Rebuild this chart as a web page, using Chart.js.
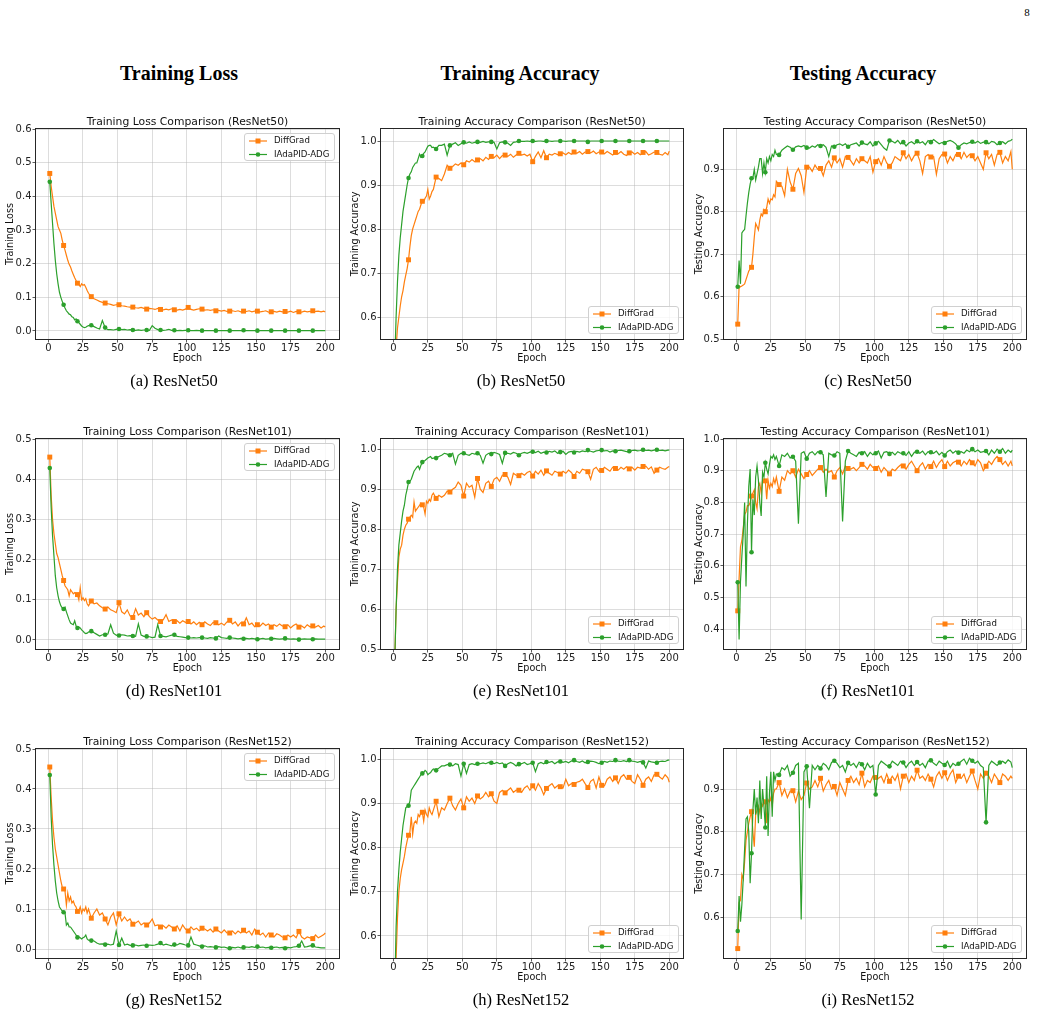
<!DOCTYPE html>
<html>
<head>
<meta charset="utf-8">
<title>ResNet training curves</title>
<script src="https://cdn.jsdelivr.net/npm/chart.js@4.4.0/dist/chart.umd.min.js"></script>
<style>
  html, body { margin: 0; padding: 0; background: #fff; }
  body { width: 1037px; height: 1017px; position: relative; overflow: hidden; }
  .serif { position: absolute; font-family: "Liberation Serif", "Times New Roman", serif; color: #000;
           transform: translate(-50%, -50%); white-space: nowrap; line-height: 1; }
  .hdr { font-weight: bold; font-size: 20px; }
  .cap { font-size: 16.5px; }
  .pnum { font-size: 11px; }
  canvas { position: absolute; }
</style>
</head>
<body>
<div class="serif pnum" style="left:1027px; top:12px">8</div>
<div class="serif hdr" style="left:179px; top:73px">Training Loss</div>
<div class="serif hdr" style="left:520px; top:73px">Training Accuracy</div>
<div class="serif hdr" style="left:863px; top:73px">Testing Accuracy</div>

<script>
// epochs: every epoch up to 29, then every other epoch, then the last one
const epochs = [];
for (let e = 1; e <= 29; e++) epochs.push(e);
for (let e = 31; e <= 199; e += 2) epochs.push(e);
epochs.push(200);

const epochTicks = [0, 25, 50, 75, 100, 125, 150, 175, 200];
const lossTicks50 = [0.0, 0.1, 0.2, 0.3, 0.4, 0.5, 0.6];
const lossTicks = [0.0, 0.1, 0.2, 0.3, 0.4, 0.5];
const trainTicks50 = [0.6, 0.7, 0.8, 0.9, 1.0];
const testTicks50 = [0.5, 0.6, 0.7, 0.8, 0.9];
const trainTicks101 = [0.5, 0.6, 0.7, 0.8, 0.9, 1.0];
const testTicks101 = [0.4, 0.5, 0.6, 0.7, 0.8, 0.9, 1.0];
const trainTicks152 = [0.6, 0.7, 0.8, 0.9, 1.0];
const testTicks152 = [0.6, 0.7, 0.8, 0.9];

// rows: 1-10 | 11-20 | 21-29 | 31-49 odd | ... | 171-189 odd | 191-199 odd, 200

// ---------- ResNet50 ----------
const lossDiff50 = [
  0.468, 0.43, 0.40, 0.37, 0.35, 0.33, 0.31, 0.30, 0.29, 0.27,
  0.254, 0.24, 0.225, 0.21, 0.198, 0.19, 0.178, 0.168, 0.158, 0.15,
  0.142, 0.138, 0.132, 0.14, 0.136, 0.138, 0.13, 0.12, 0.112,
  0.102, 0.096, 0.092, 0.088, 0.085, 0.083, 0.081, 0.079, 0.076, 0.078,
  0.078, 0.075, 0.074, 0.072, 0.071, 0.071, 0.069, 0.068, 0.070, 0.067,
  0.065, 0.067, 0.066, 0.064, 0.067, 0.064, 0.063, 0.065, 0.063, 0.066,
  0.063, 0.062, 0.064, 0.062, 0.065, 0.070, 0.064, 0.062, 0.064, 0.066,
  0.065, 0.062, 0.063, 0.061, 0.063, 0.060, 0.061, 0.059, 0.061, 0.058,
  0.059, 0.060, 0.058, 0.060, 0.057, 0.059, 0.058, 0.060, 0.057, 0.059,
  0.059, 0.057, 0.058, 0.060, 0.056, 0.057, 0.058, 0.056, 0.059, 0.057,
  0.058, 0.056, 0.059, 0.055, 0.058, 0.057, 0.056, 0.059, 0.057, 0.058,
  0.060, 0.058, 0.059, 0.057, 0.059, 0.056
];
const lossAda50 = [
  0.443, 0.38, 0.32, 0.26, 0.21, 0.17, 0.14, 0.115, 0.10, 0.088,
  0.078, 0.068, 0.060, 0.055, 0.050, 0.048, 0.042, 0.040, 0.033, 0.036,
  0.029, 0.025, 0.020, 0.015, 0.012, 0.010, 0.011, 0.014, 0.016,
  0.017, 0.013, 0.009, 0.006, 0.031, 0.010, 0.004, 0.004, 0.003, 0.005,
  0.006, 0.004, 0.005, 0.003, 0.004, 0.003, 0.002, 0.003, 0.002, 0.003,
  0.003, 0.002, 0.016, 0.008, 0.004, 0.003, 0.002, 0.003, 0.005, 0.002,
  0.002, 0.001, 0.002, 0.001, 0.002, 0.002, 0.001, 0.001, 0.002, 0.001,
  0.001, 0.001, 0.001, 0.001, 0.001, 0.001, 0.001, 0.001, 0.001, 0.001,
  0.001, 0.001, 0.001, 0.001, 0.001, 0.002, 0.001, 0.001, 0.001, 0.001,
  0.001, 0.001, 0.001, 0.001, 0.001, 0.001, 0.001, 0.001, 0.001, 0.001,
  0.001, 0.001, 0.001, 0.001, 0.001, 0.001, 0.001, 0.001, 0.001, 0.001,
  0.001, 0.001, 0.001, 0.001, 0.001, 0.001
];
const trainDiff50 = [
  0.48, 0.53, 0.575, 0.60, 0.625, 0.646, 0.66, 0.68, 0.695, 0.71,
  0.73, 0.76, 0.785, 0.80, 0.81, 0.82, 0.83, 0.84, 0.845, 0.855,
  0.863, 0.862, 0.87, 0.875, 0.89, 0.868, 0.875, 0.885, 0.89,
  0.918, 0.915, 0.91, 0.925, 0.945, 0.938, 0.942, 0.948, 0.945, 0.95,
  0.946, 0.955, 0.952, 0.958, 0.953, 0.957, 0.96, 0.955, 0.963, 0.958,
  0.965, 0.962, 0.968, 0.96, 0.967, 0.968, 0.965, 0.97, 0.963, 0.968,
  0.972, 0.968, 0.97, 0.966, 0.97, 0.953, 0.965, 0.975, 0.962, 0.978,
  0.962, 0.97, 0.968, 0.972, 0.969, 0.971, 0.973, 0.969, 0.974, 0.97,
  0.975, 0.972, 0.976, 0.97, 0.975, 0.976, 0.973, 0.977, 0.971, 0.975,
  0.975, 0.971, 0.976, 0.972, 0.968, 0.974, 0.971, 0.976, 0.97, 0.967,
  0.973, 0.975, 0.97, 0.974, 0.969, 0.974, 0.976, 0.968, 0.971, 0.975,
  0.974, 0.97, 0.968, 0.974, 0.969, 0.977
];
const trainAda50 = [
  0.50, 0.60, 0.68, 0.74, 0.78, 0.81, 0.84, 0.86, 0.88, 0.90,
  0.916, 0.925, 0.93, 0.94, 0.945, 0.95, 0.95, 0.96, 0.97, 0.963,
  0.966, 0.972, 0.975, 0.982, 0.988, 0.99, 0.99, 0.985, 0.986,
  0.982, 0.99, 0.99, 0.993, 0.968, 0.99, 0.993, 0.996, 0.99, 0.994,
  0.997, 0.995, 0.998, 0.995, 0.997, 0.998, 0.997, 0.999, 0.997, 0.998,
  0.998, 0.997, 0.982, 0.996, 0.998, 0.997, 0.995, 0.99, 0.997, 0.998,
  1.0, 0.999, 0.999, 1.0, 0.999, 1.0, 0.999, 1.0, 1.0, 0.999,
  1.0, 1.0, 0.999, 1.0, 1.0, 1.0, 1.0, 0.999, 1.0, 1.0,
  1.0, 1.0, 1.0, 1.0, 1.0, 0.998, 1.0, 1.0, 1.0, 1.0,
  1.0, 1.0, 1.0, 1.0, 1.0, 1.0, 1.0, 1.0, 1.0, 1.0,
  1.0, 1.0, 1.0, 1.0, 1.0, 1.0, 1.0, 1.0, 1.0, 1.0,
  1.0, 1.0, 1.0, 1.0, 1.0, 1.0
];
const testDiff50 = [
  0.535, 0.625, 0.623, 0.625, 0.627, 0.63, 0.64, 0.65, 0.66, 0.665,
  0.669, 0.70, 0.74, 0.772, 0.765, 0.757, 0.78, 0.795, 0.79, 0.805,
  0.80, 0.81, 0.83, 0.82, 0.83, 0.828, 0.84, 0.835, 0.872,
  0.864, 0.86, 0.838, 0.90, 0.87, 0.853, 0.89, 0.902, 0.885, 0.845,
  0.905, 0.905, 0.895, 0.91, 0.90, 0.902, 0.885, 0.91, 0.92, 0.905,
  0.927, 0.915, 0.925, 0.905, 0.93, 0.928, 0.92, 0.91, 0.925, 0.915,
  0.925, 0.92, 0.915, 0.93, 0.893, 0.918, 0.925, 0.91, 0.93, 0.915,
  0.907, 0.915, 0.93, 0.925, 0.92, 0.939, 0.925, 0.935, 0.92, 0.932,
  0.938, 0.92, 0.89, 0.93, 0.935, 0.929, 0.93, 0.888, 0.925, 0.935,
  0.936, 0.915, 0.93, 0.92, 0.935, 0.935, 0.925, 0.94, 0.928, 0.935,
  0.932, 0.92, 0.93, 0.915, 0.90, 0.939, 0.925, 0.935, 0.91, 0.935,
  0.94, 0.915, 0.93, 0.92, 0.942, 0.90
];
const testAda50 = [
  0.623, 0.685, 0.63, 0.75, 0.755, 0.758, 0.79, 0.82, 0.845, 0.865,
  0.879, 0.88, 0.90, 0.875, 0.89, 0.905, 0.925, 0.925, 0.89, 0.915,
  0.893, 0.925, 0.915, 0.93, 0.92, 0.935, 0.93, 0.945, 0.935,
  0.934, 0.945, 0.95, 0.955, 0.952, 0.946, 0.953, 0.955, 0.953, 0.956,
  0.951, 0.95, 0.955, 0.952, 0.958, 0.955, 0.958, 0.952, 0.93, 0.955,
  0.953, 0.958, 0.96, 0.956, 0.96, 0.953, 0.958, 0.96, 0.962, 0.955,
  0.963, 0.96, 0.958, 0.965, 0.955, 0.961, 0.966, 0.958, 0.95, 0.945,
  0.968, 0.966, 0.962, 0.968, 0.96, 0.964, 0.955, 0.962, 0.965, 0.96,
  0.966, 0.962, 0.965, 0.958, 0.968, 0.964, 0.97, 0.965, 0.96, 0.963,
  0.962, 0.966, 0.968, 0.965, 0.96, 0.951, 0.958, 0.962, 0.96, 0.963,
  0.965, 0.962, 0.966, 0.961, 0.964, 0.964, 0.96, 0.966, 0.964, 0.958,
  0.962, 0.965, 0.96, 0.966, 0.968, 0.971
];

// ---------- ResNet101 ----------
const lossDiff101 = [
  0.455, 0.36, 0.30, 0.265, 0.24, 0.215, 0.205, 0.19, 0.175, 0.16,
  0.148, 0.135, 0.13, 0.125, 0.11, 0.125, 0.12, 0.115, 0.118, 0.112,
  0.113, 0.10, 0.13, 0.10, 0.105, 0.098, 0.103, 0.09, 0.085,
  0.097, 0.09, 0.092, 0.085, 0.08, 0.077, 0.082, 0.075, 0.072, 0.068,
  0.093, 0.07, 0.065, 0.075, 0.06, 0.056, 0.078, 0.062, 0.067, 0.058,
  0.068, 0.058, 0.052, 0.056, 0.05, 0.046, 0.05, 0.063, 0.046, 0.05,
  0.046, 0.048, 0.042, 0.048, 0.044, 0.046, 0.04, 0.045, 0.038, 0.044,
  0.038, 0.045, 0.04, 0.036, 0.044, 0.043, 0.038, 0.042, 0.037, 0.045,
  0.049, 0.04, 0.045, 0.035, 0.043, 0.04, 0.055, 0.038, 0.042, 0.033,
  0.038, 0.035, 0.042, 0.036, 0.04, 0.032, 0.038, 0.034, 0.04, 0.035,
  0.033, 0.038, 0.03, 0.036, 0.04, 0.032, 0.035, 0.03, 0.038, 0.033,
  0.035, 0.032, 0.036, 0.03, 0.035, 0.032
];
const lossAda101 = [
  0.428, 0.33, 0.26, 0.21, 0.16, 0.13, 0.11, 0.095, 0.085, 0.08,
  0.077, 0.082, 0.07, 0.06, 0.05, 0.042, 0.04, 0.038, 0.048, 0.035,
  0.03, 0.032, 0.03, 0.025, 0.022, 0.018, 0.016, 0.017, 0.02,
  0.022, 0.018, 0.014, 0.01, 0.013, 0.013, 0.015, 0.038, 0.017, 0.012,
  0.011, 0.013, 0.012, 0.01, 0.011, 0.01, 0.009, 0.04, 0.012, 0.009,
  0.009, 0.008, 0.006, 0.007, 0.038, 0.01, 0.009, 0.008, 0.01, 0.012,
  0.013, 0.009, 0.008, 0.007, 0.006, 0.006, 0.005, 0.006, 0.005, 0.006,
  0.006, 0.005, 0.004, 0.006, 0.005, 0.004, 0.01, 0.006, 0.005, 0.004,
  0.006, 0.005, 0.004, 0.003, 0.004, 0.003, 0.004, 0.003, 0.004, 0.003,
  0.002, 0.003, 0.004, 0.002, 0.003, 0.003, 0.004, 0.003, 0.002, 0.003,
  0.004, 0.003, 0.002, 0.003, 0.002, 0.001, 0.002, 0.003, 0.002, 0.002,
  0.002, 0.003, 0.002, 0.002, 0.002, 0.002
];
const trainDiff101 = [
  0.47, 0.60, 0.67, 0.73, 0.75, 0.76, 0.785, 0.80, 0.81, 0.815,
  0.825, 0.83, 0.835, 0.83, 0.868, 0.845, 0.85, 0.855, 0.86, 0.865,
  0.861, 0.855, 0.838, 0.87, 0.865, 0.875, 0.87, 0.885, 0.89,
  0.877, 0.885, 0.88, 0.885, 0.895, 0.893, 0.90, 0.905, 0.918, 0.91,
  0.883, 0.915, 0.905, 0.91, 0.88, 0.927, 0.90, 0.892, 0.915, 0.92,
  0.907, 0.925, 0.93, 0.92, 0.935, 0.937, 0.93, 0.912, 0.94, 0.935,
  0.934, 0.94, 0.935, 0.942, 0.945, 0.933, 0.945, 0.938, 0.948, 0.935,
  0.946, 0.94, 0.935, 0.945, 0.942, 0.938, 0.945, 0.94, 0.948, 0.942,
  0.932, 0.945, 0.94, 0.95, 0.948, 0.944, 0.925, 0.95, 0.955, 0.945,
  0.947, 0.955, 0.95, 0.945, 0.955, 0.952, 0.948, 0.955, 0.95, 0.956,
  0.951, 0.955, 0.948, 0.955, 0.953, 0.957, 0.958, 0.95, 0.956, 0.94,
  0.948, 0.955, 0.952, 0.95, 0.955, 0.957
];
const trainAda101 = [
  0.47, 0.60, 0.70, 0.76, 0.79, 0.82, 0.845, 0.86, 0.885, 0.90,
  0.918, 0.92, 0.925, 0.935, 0.945, 0.95, 0.955, 0.958, 0.95, 0.96,
  0.968, 0.97, 0.972, 0.975, 0.978, 0.98, 0.982, 0.977, 0.978,
  0.978, 0.982, 0.985, 0.99, 0.988, 0.985, 0.99, 0.963, 0.985, 0.99,
  0.99, 0.987, 0.985, 0.99, 0.988, 0.99, 0.985, 0.965, 0.985, 0.99,
  0.988, 0.992, 0.99, 0.987, 0.965, 0.991, 0.99, 0.988, 0.992, 0.99,
  0.985, 0.99, 0.992, 0.99, 0.993, 0.994, 0.992, 0.995, 0.99, 0.993,
  0.992, 0.995, 0.993, 0.996, 0.99, 0.993, 0.995, 0.987, 0.993, 0.995,
  0.992, 0.995, 0.993, 0.996, 0.994, 0.998, 0.995, 0.993, 0.996, 0.997,
  0.998, 0.996, 0.997, 0.993, 0.996, 0.995, 0.997, 0.998, 0.996, 0.994,
  0.995, 0.997, 0.998, 0.996, 0.997, 0.999, 0.997, 0.998, 0.996, 0.998,
  0.999, 0.997, 0.998, 0.996, 0.998, 0.998
];
const testDiff101 = [
  0.458, 0.56, 0.66, 0.68, 0.72, 0.762, 0.77, 0.79, 0.79, 0.80,
  0.82, 0.83, 0.84, 0.80, 0.78, 0.85, 0.86, 0.83, 0.87, 0.868,
  0.868, 0.81, 0.87, 0.845, 0.86, 0.85, 0.875, 0.86, 0.88,
  0.835, 0.88, 0.87, 0.90, 0.89, 0.90, 0.88, 0.905, 0.89, 0.875,
  0.888, 0.90, 0.885, 0.895, 0.905, 0.91, 0.895, 0.905, 0.895, 0.90,
  0.88, 0.90, 0.91, 0.89, 0.915, 0.907, 0.905, 0.91, 0.90, 0.91,
  0.92, 0.915, 0.905, 0.92, 0.91, 0.907, 0.915, 0.895, 0.91, 0.90,
  0.89, 0.905, 0.90, 0.91, 0.918, 0.915, 0.905, 0.92, 0.93, 0.915,
  0.90, 0.915, 0.925, 0.905, 0.92, 0.913, 0.93, 0.91, 0.925, 0.935,
  0.913, 0.93, 0.915, 0.925, 0.93, 0.927, 0.915, 0.93, 0.92, 0.935,
  0.925, 0.915, 0.935, 0.925, 0.90, 0.914, 0.93, 0.92, 0.935, 0.945,
  0.935, 0.92, 0.93, 0.915, 0.93, 0.915
];
const testAda101 = [
  0.548, 0.368, 0.55, 0.63, 0.70, 0.80, 0.535, 0.73, 0.85, 0.905,
  0.643, 0.81, 0.76, 0.88, 0.915, 0.87, 0.80, 0.757, 0.895, 0.88,
  0.925, 0.905, 0.89, 0.92, 0.945, 0.94, 0.95, 0.935, 0.945,
  0.915, 0.95, 0.945, 0.955, 0.94, 0.944, 0.93, 0.733, 0.955, 0.96,
  0.938, 0.955, 0.96, 0.95, 0.96, 0.958, 0.95, 0.817, 0.955, 0.95,
  0.948, 0.96, 0.955, 0.74, 0.93, 0.962, 0.955, 0.95, 0.945, 0.958,
  0.955, 0.96, 0.945, 0.958, 0.95, 0.955, 0.962, 0.94, 0.958, 0.96,
  0.953, 0.958, 0.95, 0.96, 0.955, 0.955, 0.948, 0.96, 0.945, 0.958,
  0.96, 0.955, 0.962, 0.95, 0.96, 0.958, 0.955, 0.962, 0.95, 0.958,
  0.948, 0.96, 0.965, 0.955, 0.962, 0.957, 0.96, 0.955, 0.965, 0.96,
  0.968, 0.96, 0.965, 0.958, 0.96, 0.962, 0.95, 0.965, 0.955, 0.968,
  0.96, 0.97, 0.955, 0.965, 0.958, 0.965
];

// ---------- ResNet152 ----------
const lossDiff152 = [
  0.455, 0.38, 0.32, 0.28, 0.25, 0.23, 0.21, 0.19, 0.17, 0.155,
  0.15, 0.145, 0.11, 0.14, 0.12, 0.13, 0.115, 0.12, 0.11, 0.105,
  0.094, 0.095, 0.105, 0.09, 0.10, 0.095, 0.105, 0.09, 0.10,
  0.077, 0.09, 0.10, 0.085, 0.09, 0.075, 0.06, 0.08, 0.09, 0.06,
  0.088, 0.07, 0.08, 0.07, 0.075, 0.062, 0.065, 0.07, 0.06, 0.065,
  0.06, 0.065, 0.075, 0.058, 0.06, 0.055, 0.058, 0.052, 0.06, 0.055,
  0.05, 0.058, 0.045, 0.06, 0.05, 0.045, 0.055, 0.048, 0.052, 0.045,
  0.052, 0.05, 0.045, 0.05, 0.042, 0.05, 0.045, 0.04, 0.048, 0.04,
  0.04, 0.045, 0.038, 0.045, 0.04, 0.047, 0.04, 0.045, 0.035, 0.05,
  0.042, 0.035, 0.04, 0.03, 0.04, 0.035, 0.03, 0.038, 0.035, 0.03,
  0.028, 0.035, 0.03, 0.035, 0.028, 0.044, 0.03, 0.025, 0.03, 0.028,
  0.026, 0.035, 0.028, 0.032, 0.036, 0.04
];
const lossAda152 = [
  0.435, 0.33, 0.26, 0.21, 0.17, 0.14, 0.12, 0.105, 0.10, 0.095,
  0.092, 0.09, 0.06, 0.065, 0.055, 0.055, 0.05, 0.045, 0.04, 0.035,
  0.029, 0.03, 0.028, 0.025, 0.028, 0.03, 0.035, 0.025, 0.022,
  0.021, 0.02, 0.015, 0.012, 0.013, 0.011, 0.012, 0.01, 0.012, 0.045,
  0.01, 0.027, 0.01, 0.012, 0.009, 0.009, 0.01, 0.008, 0.009, 0.01,
  0.008, 0.01, 0.009, 0.01, 0.012, 0.015, 0.01, 0.012, 0.01, 0.008,
  0.011, 0.01, 0.014, 0.012, 0.01, 0.009, 0.03, 0.012, 0.01, 0.008,
  0.006, 0.008, 0.005, 0.006, 0.005, 0.004, 0.006, 0.004, 0.005, 0.003,
  0.002, 0.004, 0.003, 0.005, 0.003, 0.004, 0.005, 0.004, 0.006, 0.004,
  0.006, 0.004, 0.005, 0.003, 0.004, 0.003, 0.004, 0.005, 0.003, 0.004,
  0.002, 0.004, 0.003, 0.005, 0.006, 0.008, 0.02, 0.005, 0.006, 0.008,
  0.009, 0.005, 0.004, 0.003, 0.003, 0.003
];
const trainDiff152 = [
  0.47, 0.55, 0.64, 0.70, 0.73, 0.75, 0.765, 0.78, 0.80, 0.815,
  0.828, 0.835, 0.87, 0.83, 0.855, 0.86, 0.855, 0.875, 0.87, 0.88,
  0.88, 0.86, 0.885, 0.875, 0.87, 0.89, 0.88, 0.875, 0.885,
  0.905, 0.87, 0.89, 0.885, 0.90, 0.912, 0.895, 0.885, 0.90, 0.91,
  0.89, 0.915, 0.905, 0.912, 0.90, 0.917, 0.91, 0.915, 0.925, 0.915,
  0.922, 0.905, 0.90, 0.925, 0.93, 0.924, 0.93, 0.935, 0.925, 0.93,
  0.93, 0.925, 0.935, 0.94, 0.93, 0.94, 0.93, 0.945, 0.935, 0.92,
  0.934, 0.94, 0.945, 0.935, 0.94, 0.938, 0.935, 0.955, 0.94, 0.945,
  0.943, 0.948, 0.95, 0.955, 0.945, 0.936, 0.95, 0.955, 0.935, 0.96,
  0.941, 0.94, 0.955, 0.96, 0.95, 0.958, 0.945, 0.96, 0.965, 0.955,
  0.959, 0.95, 0.945, 0.965, 0.955, 0.941, 0.955, 0.96, 0.95, 0.965,
  0.966, 0.96, 0.955, 0.965, 0.958, 0.948
];
const trainAda152 = [
  0.47, 0.62, 0.70, 0.75, 0.79, 0.82, 0.85, 0.87, 0.89, 0.893,
  0.895, 0.905, 0.93, 0.935, 0.94, 0.945, 0.95, 0.955, 0.96, 0.965,
  0.968, 0.97, 0.975, 0.972, 0.965, 0.968, 0.97, 0.975, 0.978,
  0.975, 0.98, 0.985, 0.985, 0.988, 0.988, 0.985, 0.99, 0.988, 0.962,
  0.99, 0.968, 0.988, 0.99, 0.988, 0.99, 0.99, 0.992, 0.99, 0.993,
  0.992, 0.99, 0.993, 0.99, 0.992, 0.985, 0.99, 0.993, 0.99, 0.985,
  0.989, 0.99, 0.993, 0.988, 0.99, 0.992, 0.972, 0.99, 0.993, 0.99,
  0.994, 0.993, 0.995, 0.99, 0.994, 0.995, 0.993, 0.995, 0.992, 0.996,
  0.998, 0.995, 0.993, 0.996, 0.992, 0.994, 0.996, 0.995, 0.993, 0.99,
  0.992, 0.995, 0.993, 0.996, 0.995, 0.998, 0.996, 0.995, 0.997, 0.995,
  0.998, 0.996, 0.995, 0.993, 0.995, 0.993, 0.98, 0.996, 0.994, 0.993,
  0.992, 0.995, 0.996, 0.995, 0.998, 0.998
];
const testDiff152 = [
  0.527, 0.635, 0.64, 0.70, 0.69, 0.73, 0.78, 0.80, 0.82, 0.835,
  0.847, 0.80, 0.765, 0.84, 0.85, 0.86, 0.845, 0.865, 0.86, 0.875,
  0.87, 0.82, 0.875, 0.87, 0.88, 0.86, 0.89, 0.90, 0.90,
  0.915, 0.885, 0.90, 0.88, 0.895, 0.896, 0.87, 0.895, 0.875, 0.885,
  0.914, 0.90, 0.905, 0.92, 0.905, 0.925, 0.895, 0.91, 0.92, 0.90,
  0.906, 0.885, 0.915, 0.90, 0.885, 0.92, 0.93, 0.915, 0.925, 0.91,
  0.937, 0.905, 0.92, 0.915, 0.93, 0.927, 0.925, 0.93, 0.915, 0.935,
  0.918, 0.93, 0.92, 0.935, 0.90, 0.93, 0.935, 0.915, 0.93, 0.92,
  0.944, 0.925, 0.93, 0.92, 0.935, 0.923, 0.905, 0.93, 0.94, 0.925,
  0.938, 0.92, 0.935, 0.945, 0.915, 0.93, 0.925, 0.935, 0.915, 0.93,
  0.942, 0.92, 0.90, 0.935, 0.925, 0.937, 0.93, 0.915, 0.935, 0.925,
  0.915, 0.935, 0.93, 0.92, 0.93, 0.925
];
const testAda152 = [
  0.568, 0.65, 0.59, 0.63, 0.69, 0.76, 0.83, 0.835, 0.80, 0.68,
  0.75, 0.85, 0.90, 0.84, 0.88, 0.82, 0.92, 0.83, 0.90, 0.86,
  0.81, 0.93, 0.79, 0.89, 0.94, 0.835, 0.94, 0.92, 0.935,
  0.933, 0.95, 0.945, 0.955, 0.93, 0.938, 0.955, 0.96, 0.595, 0.94,
  0.953, 0.855, 0.955, 0.945, 0.955, 0.948, 0.96, 0.955, 0.945, 0.962,
  0.966, 0.96, 0.95, 0.955, 0.94, 0.961, 0.955, 0.96, 0.95, 0.963,
  0.958, 0.945, 0.96, 0.95, 0.955, 0.887, 0.955, 0.965, 0.96, 0.955,
  0.953, 0.965, 0.96, 0.955, 0.965, 0.962, 0.95, 0.96, 0.965, 0.955,
  0.963, 0.955, 0.96, 0.95, 0.965, 0.967, 0.96, 0.955, 0.965, 0.96,
  0.956, 0.965, 0.95, 0.96, 0.955, 0.959, 0.965, 0.97, 0.958, 0.972,
  0.966, 0.96, 0.965, 0.955, 0.95, 0.822, 0.955, 0.965, 0.96, 0.955,
  0.962, 0.965, 0.96, 0.968, 0.963, 0.95
];

const ORANGE = "#ff7f0e";
const GREEN = "#2ca02c";
const GRID = "rgba(176, 176, 176, 0.55)";
const FONT = "'DejaVu Sans', sans-serif";

// plot area of each column / row, page pixels
const colLeft = [36, 381, 724];
const colRight = [339, 683, 1026];
const rowTop = [129, 439, 749];
const rowBottom = [339, 649, 958];
const ylabelOffset = [26, 26, 24.5];
const captionX = [174, 521, 868];
const captionY = [381, 691, 1000];
const PAD_L = 40, PAD_T = 20, PAD_R = 14, PAD_B = 34;

Chart.defaults.font.family = FONT;
Chart.defaults.color = "#222";

const panels = [
  { cap: "(a) ResNet50", title: "Training Loss Comparison (ResNet50)", ylabel: "Training Loss",
    diff: lossDiff50, ada: lossAda50, yMin: -0.0238, yMax: 0.6, yTicks: lossTicks50, legend: "top" },
  { cap: "(b) ResNet50", title: "Training Accuracy Comparison (ResNet50)", ylabel: "Training Accuracy",
    diff: trainDiff50, ada: trainAda50, yMin: 0.55, yMax: 1.0273, yTicks: trainTicks50, legend: "bottom" },
  { cap: "(c) ResNet50", title: "Testing Accuracy Comparison (ResNet50)", ylabel: "Testing Accuracy",
    diff: testDiff50, ada: testAda50, yMin: 0.5, yMax: 0.995, yTicks: testTicks50, legend: "bottom" },
  { cap: "(d) ResNet101", title: "Training Loss Comparison (ResNet101)", ylabel: "Training Loss",
    diff: lossDiff101, ada: lossAda101, yMin: -0.0224, yMax: 0.5, yTicks: lossTicks, legend: "top" },
  { cap: "(e) ResNet101", title: "Training Accuracy Comparison (ResNet101)", ylabel: "Training Accuracy",
    diff: trainDiff101, ada: trainAda101, yMin: 0.5, yMax: 1.0258, yTicks: trainTicks101, legend: "bottom" },
  { cap: "(f) ResNet101", title: "Testing Accuracy Comparison (ResNet101)", ylabel: "Testing Accuracy",
    diff: testDiff101, ada: testAda101, yMin: 0.3376, yMax: 1.0, yTicks: testTicks101, legend: "bottom" },
  { cap: "(g) ResNet152", title: "Training Loss Comparison (ResNet152)", ylabel: "Training Loss",
    diff: lossDiff152, ada: lossAda152, yMin: -0.0225, yMax: 0.5, yTicks: lossTicks, legend: "top" },
  { cap: "(h) ResNet152", title: "Training Accuracy Comparison (ResNet152)", ylabel: "Training Accuracy",
    diff: trainDiff152, ada: trainAda152, yMin: 0.55, yMax: 1.0233, yTicks: trainTicks152, legend: "bottom" },
  { cap: "(i) ResNet152", title: "Testing Accuracy Comparison (ResNet152)", ylabel: "Testing Accuracy",
    diff: testDiff152, ada: testAda152, yMin: 0.505, yMax: 0.9935, yTicks: testTicks152, legend: "bottom" },
];

// frame, titles, axis labels and the in-axes legend
const decor = {
  id: "decor",
  afterDraw(chart, args, opts) {
    const ctx = chart.ctx;
    const a = chart.chartArea;
    const cx = (a.left + a.right) / 2;
    ctx.save();
    ctx.strokeStyle = "#262626";
    ctx.lineWidth = 1;
    ctx.strokeRect(a.left - 0.5, a.top - 0.5, a.right - a.left + 1, a.bottom - a.top + 1);

    ctx.fillStyle = "#111";
    ctx.textAlign = "center";
    ctx.textBaseline = "middle";
    ctx.font = "10.8px " + FONT;
    ctx.fillText(opts.title, cx, a.top - 7);
    ctx.font = "9.6px " + FONT;
    ctx.fillText("Epoch", cx, a.bottom + 19);
    ctx.save();
    ctx.translate(a.left - opts.ylabelOffset, (a.top + a.bottom) / 2);
    ctx.rotate(-Math.PI / 2);
    ctx.fillText(opts.ylabel, 0, 0);
    ctx.restore();

    // legend box
    const w = 90, h = 27;
    const x0 = a.right - 5 - w;
    const y0 = opts.legend === "top" ? a.top + 4 : a.bottom - 6 - h;
    ctx.beginPath();
    if (ctx.roundRect) ctx.roundRect(x0 + 0.5, y0 + 0.5, w, h, 2.5);
    else ctx.rect(x0 + 0.5, y0 + 0.5, w, h);
    ctx.fillStyle = "rgba(255, 255, 255, 0.8)";
    ctx.fill();
    ctx.strokeStyle = "#d0d0d0";
    ctx.lineWidth = 1;
    ctx.stroke();

    const items = [
      { text: "DiffGrad", color: ORANGE, shape: "rect" },
      { text: "IAdaPID-ADG", color: GREEN, shape: "circle" },
    ];
    ctx.font = "8.6px " + FONT;
    ctx.textAlign = "left";
    items.forEach((it, k) => {
      const y = y0 + 8 + k * 13.5;
      ctx.strokeStyle = it.color;
      ctx.lineWidth = 1.2;
      ctx.beginPath();
      ctx.moveTo(x0 + 5, y);
      ctx.lineTo(x0 + 23, y);
      ctx.stroke();
      ctx.fillStyle = it.color;
      if (it.shape === "rect") {
        ctx.fillRect(x0 + 14 - 2.5, y - 2.5, 5, 5);
      } else {
        ctx.beginPath();
        ctx.arc(x0 + 14, y, 2.3, 0, Math.PI * 2);
        ctx.fill();
      }
      ctx.fillStyle = "#111";
      ctx.fillText(it.text, x0 + 30, y);
    });
    ctx.restore();
  },
};

function series(label, values, color, style, radius, order) {
  if (values.length !== epochs.length) console.error(label, "length", values.length);
  return {
    label,
    order,
    data: epochs.map((e, i) => ({ x: e, y: values[i] })),
    borderColor: color,
    backgroundColor: color,
    borderWidth: 1.2,
    pointStyle: style,
    pointBorderWidth: 0,
    pointRadius: (c) => ((epochs[c.dataIndex] - 1) % 10 === 0 ? radius : 0),
    pointHoverRadius: 0,
  };
}

panels.forEach((p, n) => {
  const col = n % 3;
  const row = Math.floor(n / 3);
  const plotW = colRight[col] - colLeft[col];
  const plotH = rowBottom[row] - rowTop[row];

  const canvas = document.createElement("canvas");
  canvas.width = plotW + PAD_L + PAD_R;
  canvas.height = plotH + PAD_T + PAD_B;
  canvas.style.left = colLeft[col] - PAD_L + "px";
  canvas.style.top = rowTop[row] - PAD_T + "px";
  document.body.appendChild(canvas);

  const cap = document.createElement("div");
  cap.className = "serif cap";
  cap.style.left = captionX[col] + "px";
  cap.style.top = captionY[row] + "px";
  cap.textContent = p.cap;
  document.body.appendChild(cap);

  new Chart(canvas.getContext("2d"), {
    type: "line",
    data: {
      datasets: [
        series("DiffGrad", p.diff, ORANGE, "rect", 3.5, 1),
        series("IAdaPID-ADG", p.ada, GREEN, "circle", 2.3, 0),
      ],
    },
    options: {
      responsive: false,
      animation: false,
      events: [],
      layout: { padding: { left: 0, top: PAD_T, right: PAD_R, bottom: 0 } },
      scales: {
        x: {
          type: "linear",
          min: -8.95,
          max: 209.95,
          afterBuildTicks: (s) => { s.ticks = epochTicks.map((v) => ({ value: v })); },
          afterFit: (s) => { s.height = PAD_B; },
          grid: { color: GRID, lineWidth: 0.8, tickColor: "#333", tickLength: 3.5 },
          border: { display: false },
          ticks: { font: { size: 10 }, color: "#222", padding: 0, maxRotation: 0, autoSkip: false,
                   callback: (v) => String(v) },
        },
        y: {
          type: "linear",
          min: p.yMin,
          max: p.yMax,
          afterBuildTicks: (s) => { s.ticks = p.yTicks.map((v) => ({ value: v })); },
          afterFit: (s) => { s.width = PAD_L; },
          grid: { color: GRID, lineWidth: 0.8, tickColor: "#333", tickLength: 3.5 },
          border: { display: false },
          ticks: { font: { size: 10 }, color: "#222", padding: 1, autoSkip: false,
                   callback: (v) => v.toFixed(1) },
        },
      },
      plugins: {
        legend: { display: false },
        tooltip: { enabled: false },
        decor: { title: p.title, ylabel: p.ylabel, legend: p.legend, ylabelOffset: ylabelOffset[col] },
      },
    },
    plugins: [decor],
  });
});
</script>
</body>
</html>
